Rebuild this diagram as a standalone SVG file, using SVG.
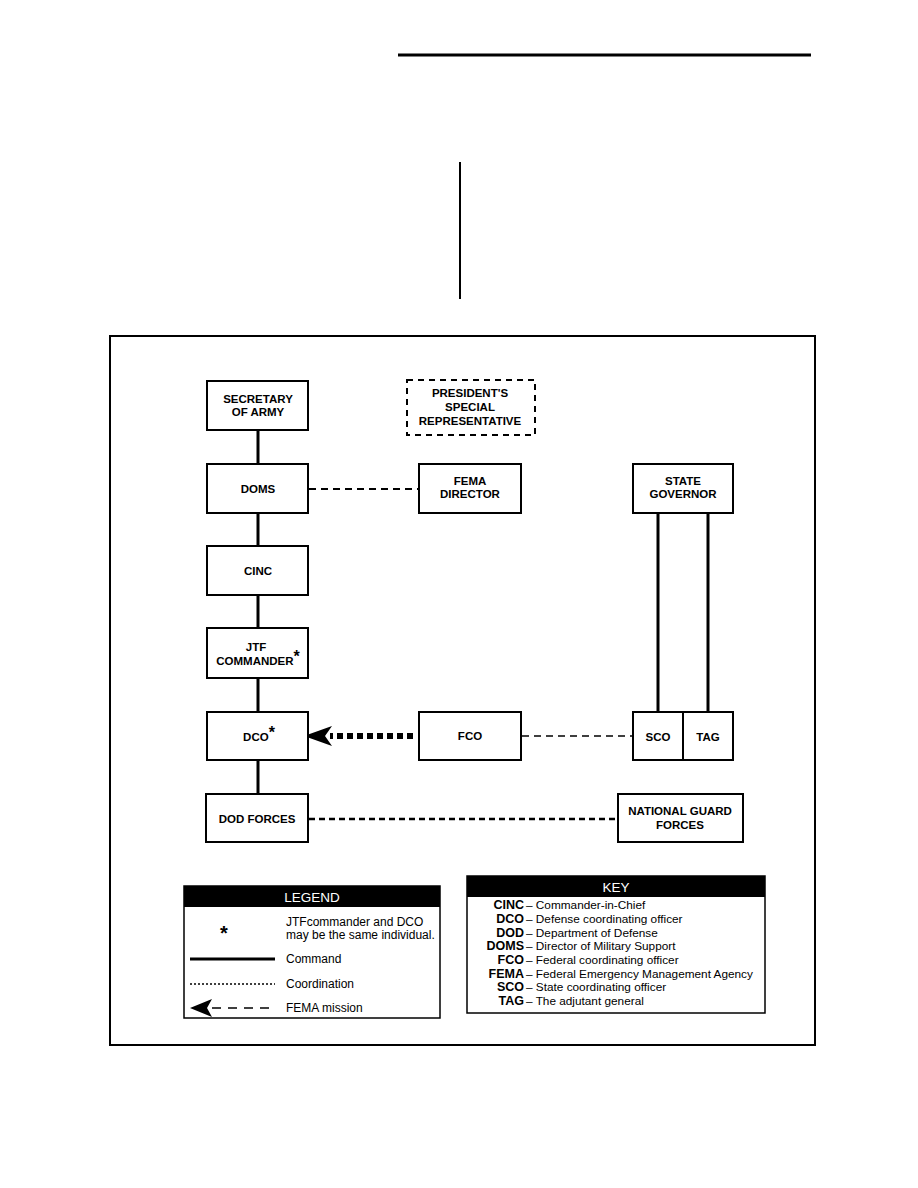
<svg xmlns="http://www.w3.org/2000/svg" width="918" height="1188" viewBox="0 0 918 1188">
<style>
.box{fill:#fff;stroke:#000;stroke-width:2}
.lbl{font-family:"Liberation Sans",Arial,sans-serif;font-weight:bold;font-size:11.5px;text-anchor:middle;fill:#000}
.star{font-size:16px;baseline-shift:3px}
.cmd{stroke:#000;stroke-width:3;fill:none}
.txt{font-family:"Liberation Sans",Arial,sans-serif;font-size:12px;fill:#000}
.kb{font-family:"Liberation Sans",Arial,sans-serif;font-size:12.5px;font-weight:bold;text-anchor:end;fill:#000}
.kt{font-family:"Liberation Sans",Arial,sans-serif;font-size:11.8px;fill:#000}
</style>
<rect width="918" height="1188" fill="#fff"/>
<line x1="398" y1="55" x2="811" y2="55" stroke="#000" stroke-width="3"/>
<line x1="460" y1="162" x2="460" y2="299" stroke="#000" stroke-width="2"/>
<rect x="110" y="336" width="705" height="709" fill="none" stroke="#000" stroke-width="2"/>

<g id="connectors">
<line class="cmd" x1="258" y1="430" x2="258" y2="464"/>
<line class="cmd" x1="258" y1="513" x2="258" y2="546"/>
<line class="cmd" x1="258" y1="595" x2="258" y2="628"/>
<line class="cmd" x1="258" y1="678" x2="258" y2="712"/>
<line class="cmd" x1="258" y1="760" x2="258" y2="794"/>
<line class="cmd" x1="658" y1="513" x2="658" y2="712"/>
<line class="cmd" x1="708" y1="513" x2="708" y2="712"/>
<line x1="309" y1="489" x2="419" y2="489" stroke="#000" stroke-width="2" stroke-dasharray="7 5"/>
<line x1="522" y1="736" x2="633" y2="736" stroke="#000" stroke-width="1.5" stroke-dasharray="7 5"/>
<line x1="309" y1="819" x2="618" y2="819" stroke="#000" stroke-width="2.5" stroke-dasharray="6 4"/>
<line x1="413" y1="736" x2="330" y2="736" stroke="#000" stroke-width="6" stroke-dasharray="6 4"/>
<path d="M304,736 L332,726 L325,736 L332,746 Z" fill="#000"/>
</g>

<g id="secretary"><rect class="box" x="207" y="381" width="101" height="49"/>
<text class="lbl" x="258" y="403">SECRETARY</text><text class="lbl" x="258" y="416">OF ARMY</text></g>
<g id="presidents_rep"><rect x="407" y="380" width="128" height="55" fill="#fff" stroke="#000" stroke-width="2" stroke-dasharray="6 5"/>
<text class="lbl" x="470" y="397">PRESIDENT'S</text><text class="lbl" x="470" y="411">SPECIAL</text><text class="lbl" x="470" y="425">REPRESENTATIVE</text></g>
<g id="doms"><rect class="box" x="207" y="464" width="101" height="49"/>
<text class="lbl" x="258" y="493">DOMS</text></g>
<g id="fema_director"><rect class="box" x="419" y="464" width="102" height="49"/>
<text class="lbl" x="470" y="485">FEMA</text><text class="lbl" x="470" y="498">DIRECTOR</text></g>
<g id="state_governor"><rect class="box" x="633" y="464" width="100" height="49"/>
<text class="lbl" x="683" y="485">STATE</text><text class="lbl" x="683" y="498">GOVERNOR</text></g>
<g id="cinc"><rect class="box" x="207" y="546" width="101" height="49"/>
<text class="lbl" x="258" y="575">CINC</text></g>
<g id="jtf_commander"><rect class="box" x="207" y="628" width="101" height="50"/>
<text class="lbl" x="256" y="651">JTF</text><text class="lbl" x="258" y="665">COMMANDER<tspan class="star">*</tspan></text></g>
<g id="dco"><rect class="box" x="207" y="712" width="101" height="48"/>
<text class="lbl" x="259" y="741">DCO<tspan class="star">*</tspan></text></g>
<g id="fco"><rect class="box" x="419" y="712" width="102" height="48"/>
<text class="lbl" x="470" y="740">FCO</text></g>
<g id="sco"><rect class="box" x="633" y="712" width="50" height="48"/>
<text class="lbl" x="658" y="741">SCO</text></g>
<g id="tag"><rect class="box" x="683" y="712" width="50" height="48"/>
<text class="lbl" x="708" y="741">TAG</text></g>
<g id="dod_forces"><rect class="box" x="206" y="794" width="102" height="48"/>
<text class="lbl" x="257" y="823">DOD FORCES</text></g>
<g id="national_guard"><rect class="box" x="618" y="794" width="125" height="48"/>
<text class="lbl" x="680" y="815">NATIONAL GUARD</text><text class="lbl" x="680" y="829">FORCES</text></g>

<g id="legend">
<rect x="184" y="886" width="256" height="132" fill="#fff" stroke="#000" stroke-width="1.5"/>
<rect x="184" y="886" width="256" height="21" fill="#000"/>
<text x="312" y="902" font-family="Liberation Sans,Arial,sans-serif" font-size="13.5" fill="#fff" text-anchor="middle">LEGEND</text>
<text x="224" y="940" class="lbl" style="font-size:20px">*</text>
<text class="txt" x="286" y="926">JTFcommander and DCO</text>
<text class="txt" x="286" y="939">may be the same individual.</text>
<line x1="190" y1="959" x2="275" y2="959" stroke="#000" stroke-width="3"/>
<text class="txt" x="286" y="963">Command</text>
<line x1="190" y1="984" x2="275" y2="984" stroke="#000" stroke-width="1.5" stroke-dasharray="2 2"/>
<text class="txt" x="286" y="988">Coordination</text>
<path d="M190,1008 L212,999 L207,1008 L212,1017 Z" fill="#000"/>
<line x1="212" y1="1008" x2="276" y2="1008" stroke="#000" stroke-width="1.5" stroke-dasharray="9 7"/>
<text class="txt" x="286" y="1012">FEMA mission</text>
</g>

<g id="key">
<rect x="467" y="876" width="298" height="137" fill="#fff" stroke="#000" stroke-width="1.5"/>
<rect x="467" y="876" width="298" height="21" fill="#000"/>
<text x="616" y="892" font-family="Liberation Sans,Arial,sans-serif" font-size="13.5" fill="#fff" text-anchor="middle">KEY</text>
<text class="kb" x="524" y="909">CINC</text><text class="kt" x="526" y="909">– Commander-in-Chief</text>
<text class="kb" x="524" y="923">DCO</text><text class="kt" x="526" y="923">– Defense coordinating officer</text>
<text class="kb" x="524" y="937">DOD</text><text class="kt" x="526" y="937">– Department of Defense</text>
<text class="kb" x="524" y="950">DOMS</text><text class="kt" x="526" y="950">– Director of Military Support</text>
<text class="kb" x="524" y="964">FCO</text><text class="kt" x="526" y="964">– Federal coordinating officer</text>
<text class="kb" x="524" y="978">FEMA</text><text class="kt" x="526" y="978">– Federal Emergency Management Agency</text>
<text class="kb" x="524" y="991">SCO</text><text class="kt" x="526" y="991">– State coordinating officer</text>
<text class="kb" x="524" y="1005">TAG</text><text class="kt" x="526" y="1005">– The adjutant general</text>
</g>
</svg>
